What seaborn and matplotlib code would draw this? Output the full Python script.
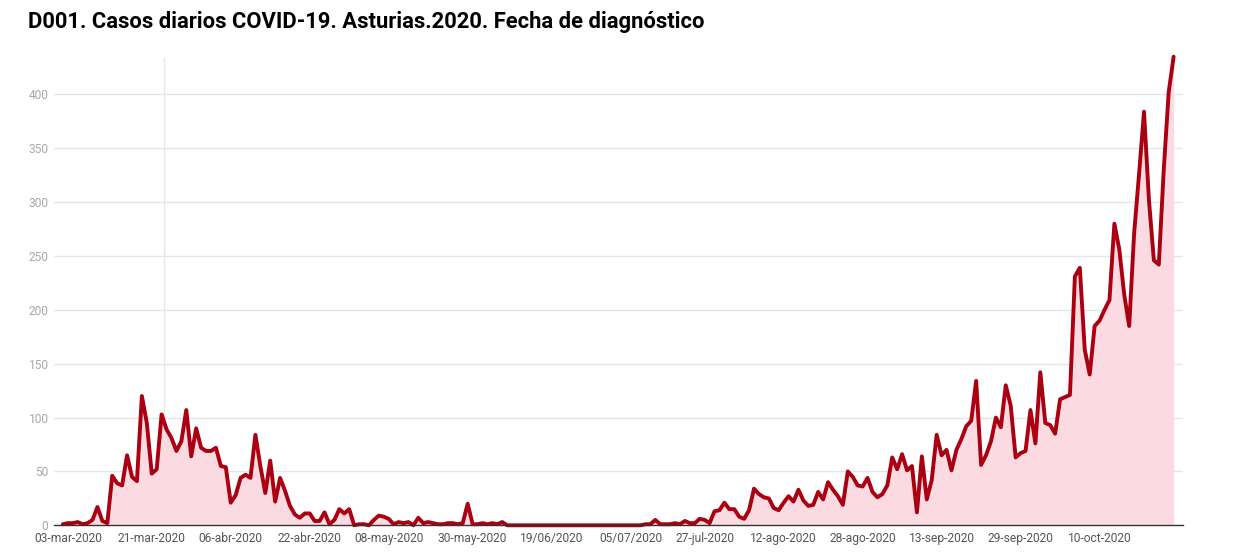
import numpy as np
import pandas as pd
import matplotlib
matplotlib.use("Agg")
import matplotlib.pyplot as plt
import seaborn as sns

# Daily cases (one value per reported day, in order)
cases_mar_apr = [1, 2, 2, 3, 1, 2, 5, 17, 4, 2, 46, 39, 37, 65, 45, 41, 120, 95, 48, 52,
                 103, 89, 81, 69, 78, 107, 64, 90, 72, 69, 69, 72, 55, 54, 21, 28, 44, 47, 44]
cases_apr_may = [84, 55, 30, 60, 22, 44, 32, 18, 10, 7, 11, 11, 4, 4, 12, 1, 5, 15, 11, 15,
                 0, 1, 1, 0, 5, 9, 8, 6, 1, 3, 2, 3, 0, 7, 2, 3, 2, 1, 1, 2,
                 2, 1, 2, 20, 1, 1, 2, 1, 2, 1, 3]
cases_jun_jul = [0] * 27
cases_jul_aug = [0, 1, 1, 5, 1, 1, 1, 2, 1, 4, 2, 2, 6, 5, 2, 13, 14, 21, 15, 15,
                 8, 6, 14, 34, 29, 26, 25, 16, 14, 21, 27, 22, 33, 23, 18, 19, 31, 24, 40, 33, 27]
cases_aug_sep = [19, 50, 45, 37, 36, 44, 31, 26, 29, 37, 63, 52, 66, 51, 55, 12, 64, 24, 42, 84,
                 65, 70, 51, 70, 80, 92, 97, 134, 56, 65, 78, 100, 91, 130]
cases_sep_oct = [111, 63, 67, 69, 107, 76, 142, 95, 93, 85, 117, 119, 121, 231, 239, 163, 140,
                 185, 190, 200, 209, 280, 256, 214, 185, 271, 326, 384, 302, 246, 242, 330, 402, 435]

cases = cases_mar_apr + cases_apr_may + cases_jun_jul + cases_jul_aug + cases_aug_sep + cases_sep_oct

# Category (row) that carries each x label
tick_rows = [1, 18, 34, 50, 66, 83, 99, 115, 130, 146, 162, 178, 194, 210]
tick_labels = ["03-mar-2020", "21-mar-2020", "06-abr-2020", "22-abr-2020", "08-may-2020",
               "30-may-2020", "19/06/2020", "05/07/2020", "27-jul-2020", "12-ago-2020",
               "28-ago-2020", "13-sep-2020", "29-sep-2020", "10-oct-2020"]
y_ticks = [0, 50, 100, 150, 200, 250, 300, 350, 400]
title = "D001. Casos diarios COVID-19. Asturias.2020. Fecha de diagnóstico"

sns.set_theme(style="white")
plt.rcParams['font.family'] = ['Roboto', 'DejaVu Sans']

df = pd.DataFrame({"fila": np.arange(len(cases)), "casos": cases})

W, H = 1260, 553
fig = plt.figure(figsize=(W / 100, H / 100), dpi=100)
fig.patch.set_facecolor("white")
ax = fig.add_axes([54 / W, 27.7 / H, (1183 - 54) / W, (496.3 - 27.7) / H])

ax.fill_between(df["fila"], 0, df["casos"], color="#fbdbe1", linewidth=0, zorder=1)
sns.lineplot(data=df, x="fila", y="casos", ax=ax, color="#aa0011", linewidth=2.8,
             zorder=3, solid_joinstyle="round", solid_capstyle="round")
for ln in ax.lines:
    ln.set_clip_on(False)

ax.set_xlim(-1.8, len(cases) + 0.9)
ax.set_ylim(0, 435)
ax.set_yticks(y_ticks)
ax.yaxis.grid(True, color="#e6e6e6", linewidth=1)
ax.xaxis.grid(False)
ax.set_axisbelow(True)
ax.axvline(20.4, color="#e8e8e8", lw=1, zorder=0)

for s in ["top", "right", "left"]:
    ax.spines[s].set_visible(False)
ax.spines["bottom"].set_color("#333333")
ax.spines["bottom"].set_linewidth(1)
ax.spines["bottom"].set_zorder(4)

ax.set_xticks(tick_rows)
ax.set_xticklabels(tick_labels)
ax.tick_params(axis="x", length=0, pad=4.5, labelsize=8.64, colors="#555555")
ax.tick_params(axis="y", length=0, pad=4, labelsize=8.64, colors="#a8a8a8")
ax.set_xlabel("")
ax.set_ylabel("")

fig.text(28 / W, 1 - 22 / H, title, fontsize=15.8, fontweight="bold",
         va="center", ha="left", color="#000000")

fig.savefig("out.png", dpi=100, facecolor="white")
